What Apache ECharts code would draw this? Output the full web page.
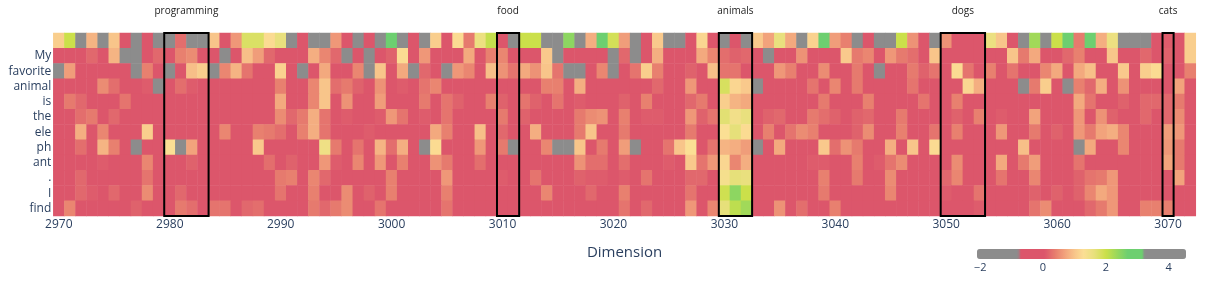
<!DOCTYPE html>
<html><head><meta charset="utf-8">
<script src="https://cdn.jsdelivr.net/npm/echarts@6/dist/echarts.min.js"></script>
<style>html,body{margin:0;padding:0;background:#fff}#c{width:1213px;height:283px}</style>
</head><body><div id="c"></div>
<script>
// ---- data ----
const dimStart = 2970;
const dimCount = 103;
const dimensions = [];
for (let i = 0; i < dimCount; i++) dimensions.push(String(dimStart + i));

const rowLabels = ["", "My", "favorite", "animal", "is", "the", "ele", "ph", "ant", ".", "I", "find"];

const rowBlank = [1.1,2.0,-1.5,0.85,-1.5,1.0,0,-1.5,0,-1.5, -1.5,0.25,-1.5,-1.5,1.0,0,0.6,1.8,1.8,1.25, 1.6,-1.5,0,-1.5,-1.5,0.6,0,-1.5,0,-1.5, 2.8,-1.5,0,-1.5,1.1,0,1.25,0.35,1.55,2.05, 0,-1.5,2.0,2.0,-1.5,-1.5,2.45,-1.5,0.8,2.8, 1.9,0.65,-1.5,0,1.05,-1.5,-1.5,0,1.2,0, -1.5,0,-1.5,1.05,0.7,1.6,0.75,-1.5,1.15,2.8, 0.65,0.4,-1.5,0,-1.5,-1.5,2.0,0.55,0,-1.5, 0.55,0,0,0,1.55,1.0,0,-1.5,2.3,-1.5, 2.0,2.8,0.35,2.8,0.8,1.55,-1.5,-1.5,-1.5,0, 0.1,0,1.1];
const rowMy = [0,0,0,0.2,0,0.85,-1.5,-1.5,0,0.2, 0,0.4,0.5,0,0,-1.5,0,0.95,0.65,0.2, 0,0,0,0.8,0.45,0.2,-1.5,0,-1.5,0, 0.15,1.25,0,0.6,0,0,0,0.75,0,0.4, 0.45,0,0,0,1.05,-1.5,0,0,0,0, -1.5,0.2,-1.5,0,0.8,0,0,0,0.75,0.45, 0.25,0.15,0.2,0,-1.5,0,0,0.55,0,0, 0,1.05,0.35,0.45,0,0.6,0.35,0.25,0,1.0, 0,0,0,0,0,0,1.0,0.35,0.75,0, 0,0.2,0.4,0,0,1.0,0,0,0.2,0, 0.15,0,1.1];
const rowFavorite = [-1.5,0.65,0,0,0,0,0,-1.5,0.4,0, -1.5,0,0.95,1.1,-1.5,0.45,0.85,0.3,0,0, 1.15,0,-1.5,0,0.75,0,0,0.45,-1.5,1.0, 0,0.75,-1.5,0.2,0,-1.5,0.6,0.45,0,0.95, 0.55,0.3,0.75,0.55,1.0,0.3,-1.5,-1.5,0,0.45, -1.5,0,0.3,1.1,0.4,0,0,0.15,0,0.95, 0.3,0.3,0,0,0,0.6,0.4,0,0,0.5, 0,0,0.35,0,-1.5,0,0,0.35,0.15,0.3, 0,1.25,0.3,0,0.4,0,0.3,0,0,0.45, 0.75,0,0.75,0.95,0,0,1.05,0,1.1,1.25, 0,0,0.4];
const rowAnimal = [0,0,0,0,0.5,0.25,0,0,0.1,-1.5, 0,0.25,0.1,0,0,0,0,0,0,0, 0.4,0,0,0.45,1.0,0.25,0.35,0.15,0,0.55, 0,0.1,0,0.3,0.45,0,0,0,0,0, 0,0,0,0,0.4,0.4,0,0.8,0,0.05, 0,0,0,0,0.2,0,0,0.6,0,0, 1.85,1.2,1.05,-1.5,0,0,0,0,0.3,0, 0.45,0,0.35,0,0,0,0,0.3,0,0, 0,0,1.2,0.8,0,0,0,-1.5,0.35,1.1, 0,-1.5,0.4,0.2,0.8,0,0.55,0,0,0, 0,0.7,0];
const rowIs = [0,0.35,0.2,0,0,0,0.3,0,0,0, 0,0,0,0,0,0,0,0,0,0, 0.75,0,0,0.45,1.0,0,0.55,0,0,0.65, 0,0,0,0.35,0,0.3,0.15,0,0,0.4, 0.15,0,0.3,0.15,0,0.3,0,0.1,0,0, 0,0.15,0,0.4,0,0,0,0.2,0.35,0, 1.1,0.85,0.75,0,0,0,0,0,0,0.35, 0,0,0,0.4,0,0,0,0,0.3,0, 0,0.4,0,0,0,0,0,0,0,0, 0,0,0.75,0.3,0,0,0.15,0,0.2,0.2, 0.2,0.35,0];
const rowThe = [0,0,0.25,0.35,0,0.2,0,0,0,0, 0,0,0,0,0,0,0,0,0,0, 0.5,0.2,0.35,0.8,0.3,0,0.1,0,0,0.1, 0.6,0.3,0,0.1,0,0.3,0,0,0,0, 0.35,0,0.15,0,0,0.05,0,0.35,0.5,0.55, 0,0.4,0,0.1,0.1,0,0,0.6,0.15,0.3, 1.7,1.45,1.6,0,0.15,0.2,0,0,0.35,0.25, 0.15,0,0.15,0.2,0,0,0.35,0,0,0, 0,0.15,0,0.4,0,0.1,0,0,0.7,0, 0,0,0.6,0,0.55,0.15,0,0,0.2,0, 0.2,0.5,0];
const rowEle = [0,0,0.8,0,0.45,0,0,0,1.1,0, 0,0,0,0,0,0.45,0,0,0.4,0.35, 0.25,0,0.4,0.8,0.3,0,0,0,0.1,0, 0,0,0,0,0.75,0.4,0,0,0.95,0, 0.2,0,0,0.8,0,0,0,0.35,1.0,0, 0,0.35,0,0,0,0,0,0.35,0,0, 1.3,1.65,1.25,0,0.4,0,0.3,0.5,0.4,0, 0,0,0.15,0.5,0,0,0.4,0,0,0.3, 0,0.4,0,0,0,0.6,0,0,0.35,0, 0.15,0,0.6,0.35,0.7,0.8,0.45,0,0,0, 0.65,0.6,0];
const rowPh = [0,0,0.25,0,0.85,0.4,0,-1.5,0,0, 1.3,-1.5,0.7,0,0,0,0,0,1.05,0, 0,0.05,0.05,0.05,1.5,0.35,0,0.3,0,0.85, 0.25,0.8,0,-1.5,1.25,0,0,0,0.6,0, 0.35,-1.5,0,0,0.45,-1.5,-1.5,1.0,0,0.35, 0,0.65,-1.5,0,0,0.3,1.0,1.3,0,0.3, 0.85,0.8,0.65,-1.5,0,0.75,0,0,0,1.05, 0.25,0.55,0.35,0,0,0.8,0,1.0,0,1.25, 0,0,0,0,0,0,0,0.95,0,0, 0,0,-1.5,0.75,0,0,0.45,0,0,0, 0.6,0.35,0];
const rowAnt = [0,0,0,0,0.1,0,0,0,0.45,0, 0,0,0.15,0,0,0,0,0,0,0.25, 0,0.15,0,0,0.6,0.1,0,0.45,0,0.6, 0,0.4,0,0,0.55,0.35,0,0,0.25,0, 0,0,0,0,0,0,0,0.55,0.25,0.25, 0,0.25,0,0,0,0.1,0,1.05,0.3,0.6, 1.2,0.45,0.8,0,0,0,0,0,0.1,0.1, 0,0,0.4,0,0.1,0.3,0.5,0,0,0, 0,0.5,0,0,0,0.75,0,0.35,0.65,0, 0,0,0.3,0,0,0,0,0,0,0, 0.7,0.35,0];
const rowDot = [0,0,0.2,0,0,0.05,0,0,0.3,0, 0,0,0,0,0,0,0,0,0,0, 0.35,0.4,0,0.45,0.2,0,0,0,0,0, 0.4,0,0,0,0,0.6,0,0,0,0, 0.1,0,0,0.3,0,0,0,0.15,0.1,0.1, 0,0.1,0,0.3,0,0,0,0.2,0.2,0, 1.4,1.65,1.6,0,0,0,0,0,0,0.4, 0,0,0.35,0,0,0.5,0,0,0,0, 0.2,0.45,0,0,0,0.3,0,0,0.45,0, 0,0,0.15,0.3,0.35,0.6,0,0,0,0, 0,0.7,0];
const rowI = [0,0,0.2,0.1,0,0.2,0,0,0.5,0, 0,0.2,0,0,0,0,0,0,0,0, 0.3,0,0,0.4,0,0,0.5,0,0.15,0, 0.4,0,0,0,0,0.4,0,0,0,0, 0,0,0,0,0.45,0,0,0,0.2,0, 0,0.4,0,0,0,0,0,0.3,0,0, 1.95,2.45,2.0,0,0,0,0,0,0,0.35, 0,0,0,0,0,0.45,0,0,0,0, 0.1,0,0,0.3,0,0,0,0,0.15,0, 0.15,0,0.15,0.45,0.75,0.6,0,0,0,0, 0,0,0];
const rowFind = [0,0.45,0,0,0,0,0,0.15,0,0, 0,0.35,0.25,0,0.3,0.3,0,0.2,0.25,0, 0,0,0,0.35,0.2,0.35,0.5,0,0,0.3, 0,0,0,0,0,0.3,0.05,0,0,0, 0,0,0,0.05,0.05,0,0,0,0,0, 0,0.3,0,0.2,0,0,0,0.6,0,0.45, 1.65,2.1,2.3,0,0,0.55,0,0.25,0,0, 0.4,0,0,0,0,0,0,0,0,0, 0,0,0,0.1,0,0,0,0,0.3,0.5, 0,0,0,0.2,0.35,0.6,0,0,0.4,0.4, 0.4,0,0];

const rows = [rowBlank, rowMy, rowFavorite, rowAnimal, rowIs, rowThe, rowEle, rowPh, rowAnt, rowDot, rowI, rowFind];

const boxLabels = ["programming", "food", "animals", "dogs", "cats"];
const boxFirst = [2980, 3010, 3030, 3050, 3070];
const boxLast  = [2983, 3011, 3032, 3053, 3070];

const colorbarTicks = [-2, 0, 2, 4];
const colorMin = -2.1, colorMax = 4.55;

// ---- styling ----
const TXT = '#2a3f5f';
const FONT = '"Open Sans", "Liberation Sans", sans-serif';
const stops = [
  [-2.1,'#8c8c8c'], [-0.78,'#8c8c8c'], [-0.74,'#dc566b'], [0.05,'#dc566b'],
  [0.4,'#e8806f'], [0.7,'#f2a37c'], [1.0,'#f8c58a'], [1.3,'#fbdf94'],
  [1.65,'#e6e07a'], [2.0,'#cbe04a'], [2.4,'#93d75e'], [2.7,'#6dcf70'],
  [3.18,'#6dcf70'], [3.22,'#8c8c8c'], [4.55,'#8c8c8c']
];
function hex(c){return [parseInt(c.slice(1,3),16),parseInt(c.slice(3,5),16),parseInt(c.slice(5,7),16)];}
function colorAt(v){
  for (let i=0;i<stops.length-1;i++){
    const a=stops[i], b=stops[i+1];
    if (v>=a[0] && v<=b[0]){
      const t=(v-a[0])/(b[0]-a[0]); const ca=hex(a[1]), cb=hex(b[1]);
      return 'rgb('+ca.map((x,k)=>Math.round(x+(cb[k]-x)*t)).join(',')+')';
    }
  }
  return stops[stops.length-1][1];
}
const N = 267; const palette = [];
for (let i=0;i<N;i++) palette.push(colorAt(colorMin + (colorMax-colorMin)*i/(N-1)));

const heatData = [];
rows.forEach((r, yi) => r.forEach((v, xi) => heatData.push([xi, yi, v])));
const boxData = boxFirst.map((f, i) => [f, boxLast[i]]);

const chart = echarts.init(document.getElementById('c'), null, {renderer:'canvas'});
chart.setOption({
  animation:false,
  textStyle:{fontFamily:FONT},
  grid:[
    {left:53.3, top:33, width:1142.5, height:183},
    {left:53.3, top:33, width:1142.5, height:183},
    {left:977, top:249, width:209, height:10}
  ],
  xAxis:[
    {type:'category', gridIndex:0, data:dimensions,
     axisLine:{show:false}, axisTick:{show:false}, splitLine:{show:false},
     axisLabel:{color:TXT, fontSize:12, fontFamily:FONT, margin:3,
       interval:(idx, val) => Number(val) % 10 === 0},
     name:'Dimension', nameLocation:'middle', nameGap:29,
     nameTextStyle:{color:TXT, fontSize:15, fontFamily:FONT}},
    {type:'value', gridIndex:1, min:dimStart-0.5, max:dimStart+dimCount-0.5, show:false},
    {type:'value', gridIndex:2, min:colorMin, max:colorMax,
     axisLine:{show:false}, axisTick:{show:false}, splitLine:{show:false},
     axisLabel:{customValues:colorbarTicks, color:TXT, fontSize:11, fontFamily:FONT, margin:3,
       formatter:v => String(v).replace('-', '\u2212')}}
  ],
  yAxis:[
    {type:'category', gridIndex:0, data:rowLabels, inverse:true,
     axisLine:{show:false}, axisTick:{show:false}, splitLine:{show:false},
     axisLabel:{color:TXT, fontSize:12, fontFamily:FONT, margin:2, interval:0}},
    {type:'value', gridIndex:1, min:0, max:1, show:false},
    {type:'value', gridIndex:2, min:0, max:1, show:false}
  ],
  visualMap:{type:'continuous', seriesIndex:0, min:colorMin, max:colorMax,
    orient:'horizontal', left:977, top:249, itemWidth:10, itemHeight:209,
    calculable:false, hoverLink:false, padding:0, text:null, showLabel:false,
    inRange:{color:palette}},
  series:[
    {type:'heatmap', xAxisIndex:0, yAxisIndex:0, data:heatData, progressive:0,
     itemStyle:{borderWidth:0}, emphasis:{disabled:true}},
    {type:'custom', xAxisIndex:1, yAxisIndex:1, data:boxData, clip:false, z:5,
     renderItem:(params, api) => {
       const p0 = api.coord([api.value(0)-0.5, 1]);
       const p1 = api.coord([api.value(1)+0.5, 0]);
       return {type:'group', children:[
         {type:'rect', shape:{x:p0[0], y:p0[1], width:p1[0]-p0[0], height:p1[1]-p0[1]},
          style:{fill:'none', stroke:'#000', lineWidth:2}},
         {type:'text', style:{text:boxLabels[params.dataIndex], x:(p0[0]+p1[0])/2, y:p0[1]-22,
          align:'center', verticalAlign:'middle', fill:'#222', fontSize:10, fontFamily:FONT}}
       ]};
     }}
  ]
});
</script></body></html>
